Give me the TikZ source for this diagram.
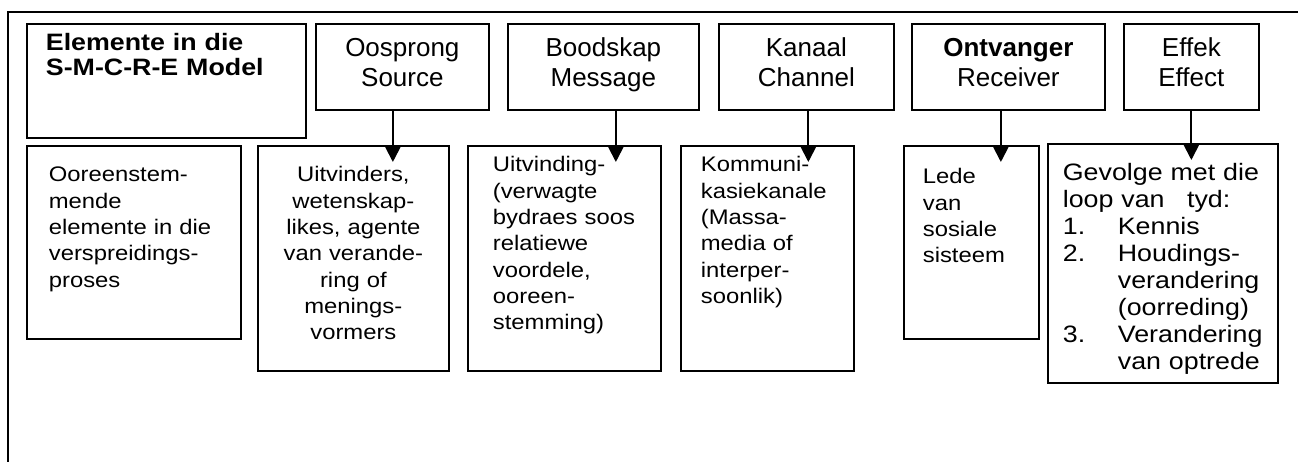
\documentclass[tikz,border=0pt]{standalone}
\usepackage{fontspec}
\setmainfont{Liberation Sans}[FakeStretch=1.13]
\newfontfamily\headfont{Liberation Sans}
\usepackage{tikz}
\usetikzlibrary{arrows.meta, positioning}
\tikzstyle{modelbox} = [rectangle, draw=black, line width=1pt, anchor=north west, align=left, inner xsep=0.38cm, inner ysep=0pt, font=\fontsize{13.5}{14.2}\selectfont\bfseries]
\tikzstyle{headbox} = [rectangle, draw=black, line width=1pt, anchor=north west, align=center, inner sep=0pt, text height=0.66cm, text depth=1.06cm, font=\headfont\fontsize{14.8}{17}\selectfont]
\tikzstyle{bodybox} = [rectangle, draw=black, line width=1pt, anchor=north west, align=left, inner ysep=0pt, font=\fontsize{12}{15}\selectfont]
\tikzstyle{arrow} = [line width=1.1pt, -{Triangle[length=0.32cm, width=0.32cm]}, shorten >=-0.34cm]

\begin{document}
\begin{tikzpicture}[x=0.02cm, y=-0.02cm]
\useasboundingbox (0,0) rectangle (1298,462);

% frame
\draw [line width=1.6pt] (1298,12) -- (8,12) -- (8,462);

% top row
\node (model) [modelbox, text width=4.82cm, text height=0.54cm, text depth=1.74cm] at (26,23) {Elemente in die\\S-M-C-R-E Model};
\node (oos) [headbox, text width=3.46cm] at (315,23) {Oosprong\\Source};
\node (bood) [headbox, text width=3.82cm] at (507,23) {Boodskap\\Message};
\node (kan) [headbox, text width=3.50cm] at (718,23) {Kanaal\\Channel};
\node (ont) [headbox, text width=3.86cm] at (911,23) {\textbf{Ontvanger}\\Receiver};
\node (eff) [headbox, text width=2.70cm] at (1123,23) {Effek\\Effect};

% bottom row
\node (ooreen) [bodybox, inner xsep=0.44cm, text width=3.40cm, text height=0.72cm, text depth=3.14cm] at (26,145) {Ooreenstem-\\mende\\elemente~in~die\\verspreidings-\\proses};
\node (uitv) [bodybox, align=center, inner xsep=0.1cm, text width=3.62cm, text height=0.72cm, text depth=3.78cm] at (257,145) {Uitvinders,\\wetenskap-\\likes,~agente\\van~verande-\\ring~of\\menings-\\vormers};
\node (uitvind) [bodybox, inner xsep=0.5cm, text width=2.86cm, text height=0.52cm, text depth=3.98cm] at (467,145) {Uitvinding-\\(verwagte\\bydraes~soos\\relatiewe\\voordele,\\ooreen-\\stemming)};
\node (kommuni) [bodybox, inner xsep=0.4cm, text width=2.66cm, text height=0.52cm, text depth=3.98cm] at (680,145) {Kommuni-\\kasiekanale\\(Massa-\\media~of\\interper-\\soonlik)};
\node (lede) [bodybox, inner xsep=0.38cm, text width=1.94cm, text height=0.76cm, text depth=3.10cm] at (903,145) {Lede\\van\\sosiale\\sisteem};
\node (gevolge) [bodybox, inner xsep=0.3cm, text width=4.0cm, text height=0.74cm, text depth=4.04cm, font=\fontsize{13.5}{15.3}\selectfont] at (1047,143) {Gevolge~met~die\\loop~van\hspace*{0.45cm}tyd:\\\makebox[1.1cm][l]{1.}Kennis\\\makebox[1.1cm][l]{2.}Houdings-\\\hspace*{1.1cm}verandering\\\hspace*{1.1cm}(oorreding)\\\makebox[1.1cm][l]{3.}Verandering\\\hspace*{1.1cm}van~optrede};

% arrows
\coordinate (a1) at ([xshift=-0.19cm]oos.south);
\coordinate (a2) at ([xshift=0.25cm]bood.south);
\coordinate (a3) at ([xshift=0.04cm]kan.south);
\coordinate (a4) at ([xshift=-0.15cm]ont.south);
\coordinate (a5) at (eff.south);
\draw [arrow] (a1) -- (a1 |- uitv.north);
\draw [arrow] (a2) -- (a2 |- uitvind.north);
\draw [arrow] (a3) -- (a3 |- kommuni.north);
\draw [arrow] (a4) -- (a4 |- lede.north);
\draw [arrow] (a5) -- (a5 |- gevolge.north);

\end{tikzpicture}
\end{document}
